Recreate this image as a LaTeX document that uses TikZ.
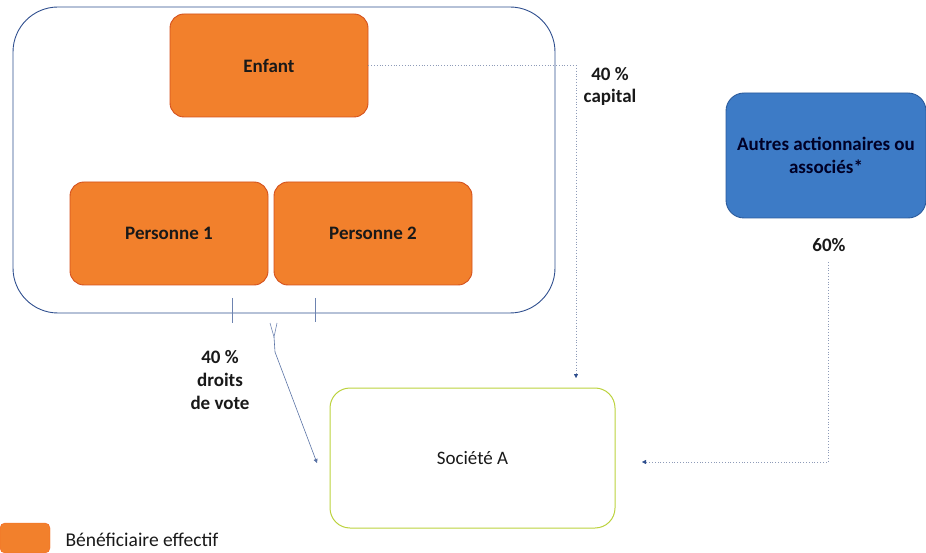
\documentclass[tikz,border=0pt]{standalone}
\usepackage{fontspec}
\setmainfont{Carlito}
\usepackage{xcolor}
\usetikzlibrary{arrows.meta,positioning,calc}
\definecolor{benef}{HTML}{F2802C}
\definecolor{benefline}{HTML}{D4501C}
\definecolor{autres}{HTML}{3D7BC6}
\definecolor{autresline}{HTML}{2B5B9C}
\definecolor{cadre}{HTML}{2E4E8E}
\definecolor{societe}{HTML}{BCD23E}
\definecolor{liencol}{HTML}{8E9BB8}

\begin{document}
\begin{tikzpicture}[x=1pt,y=-1pt,
    txt/.style={font=\fontsize{19}{22}\selectfont\bfseries,text=black!90,align=center},
    benefbox/.style={draw=benefline,fill=benef,line width=0.9pt,rounded corners=14pt,
      minimum width=198pt,minimum height=103pt,txt},
    lienpt/.style={liencol,dotted,line width=0.8pt},
    tip/.style={-{Triangle[length=4pt,width=4pt]},cadre}]
  \useasboundingbox (0,0) rectangle (926,553);

  % Famille
  \node[draw=cadre,line width=0.9pt,rounded corners=45pt,minimum width=542pt,
    minimum height=306pt] (famille) at (284,160) {};
  \node[benefbox] (enfant) at (269,65.5) {Enfant};
  \node[benefbox] (pers1) at (169,233.5) {Personne 1};
  \node[benefbox] (pers2) at (373,233.5) {Personne 2};

  % Autres associes
  \node[draw=autresline,fill=autres,line width=0.9pt,rounded corners=18pt,
    minimum width=200pt,minimum height=125pt,txt,text=black!85!blue,
    font=\fontsize{19}{23}\selectfont\bfseries] (autres) at (826,155.5)
    {Autres actionnaires ou\\associés*};

  % Societe A
  \node[draw=societe,line width=1pt,rounded corners=20pt,minimum width=285pt,
    minimum height=140pt,txt,font=\fontsize{19}{22}\selectfont] (soc) at (472.5,458)
    {Société A};

  % Pourcentages
  \node[txt] (capital) at (610,86) {40 \%\\capital};
  \node[txt,font=\fontsize{19}{23}\selectfont\bfseries] (votes) at (220,380)
    {40 \%\\droits\\de vote};
  \node[txt] (soixante) at (829,245) {60\%};

  % Liens
  \coordinate (capfin) at (576,378);
  \draw[lienpt] (enfant.east) -| (capfin);
  \draw[tip] ($(capfin)+(0,-3)$) -- (capfin);

  \coordinate (autdeb) at (828,262);
  \coordinate (autfin) at (642,462);
  \draw[lienpt] (autdeb) |- (autfin);
  \draw[tip] ($(autfin)+(3,0)$) -- (autfin);

  \coordinate (v1) at (232,298);
  \coordinate (v2) at (315,298);
  \coordinate (vj) at (274,337);
  \coordinate (votfin) at (317,463);
  \draw[cadre!70,line width=0.6pt] (v1) -- ++(0,25);
  \draw[cadre!70,line width=0.6pt] (v2) -- ++(0,24);
  \draw[cadre!70,line width=0.6pt] (270,323) -- (vj) -- (277,323);
  \draw[tip,line width=0.6pt,cadre!80] (vj) -- (275,352) -- (votfin);

  % Legende
  \node[fill=benef,draw=benef!80!red,rounded corners=5pt,minimum width=50pt,
    minimum height=30pt] (legbox) at (25,538) {};
  \node[anchor=west,font=\fontsize{19.5}{22}\selectfont,text=black!90]
    (legtxt) at (62,540) {Bénéficiaire effectif};
\end{tikzpicture}
\end{document}
